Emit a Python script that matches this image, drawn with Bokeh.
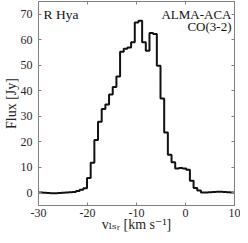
from bokeh.plotting import figure
from bokeh.models import FixedTicker, LinearAxis, Label
from bokeh.embed import file_html
from bokeh.resources import INLINE

# ---- data ----
v_first_center = -30.225   # km/s, first channel centre
channel_width = 0.75       # km/s
flux = [0.1, 0.1, 0.0, -0.1, -0.2, -0.2, -0.1, 0.0, 0.1, 0.2,
        0.3, 0.65, 1.15, 1.8,
        5.8, 11.8, 20.7, 27.8, 32.8, 34.6, 38.5, 41.5, 45.6,
        55.3, 56.5, 57.0, 59.0, 66.8, 67.5, 59.0, 55.7, 62.6, 62.3,
        49.8, 37.0, 23.6, 14.9, 12.0, 9.5, 9.7, 9.5, 9.0, 4.7, 1.9, 0.9,
        0.1, 0.1, 0.2, 0.3, 0.4, 0.4, 0.3, 0.2, 0.1, 0.0]
velocity = [round(v_first_center + channel_width * i, 3) for i in range(len(flux))]

x_ticks = [-30, -20, -10, 0, 10]
y_ticks = [0, 10, 20, 30, 40, 50, 60, 70]
star_name = "R Hya"
instrument = "ALMA-ACA"
line_name = "CO(3-2)"
y_label = "Flux [Jy]"
x_label = "v\u2097\u209b\u1d63 [km s\u207b\u00b9]"

FONT = "Liberation Serif, DejaVu Serif, DejaVu Sans"
GRAY = "#808080"
TXT = "#262626"

p = figure(width=240, height=235, x_range=(-30, 10), y_range=(-5, 75),
           output_backend="svg", toolbar_location=None,
           min_border_left=10, min_border_right=6, min_border_top=1,
           min_border_bottom=30)
p.background_fill_color = "white"
p.border_fill_color = "white"
p.outline_line_color = GRAY
p.outline_line_width = 1
p.xgrid.visible = False
p.ygrid.visible = False

for ax, ticks in ((p.xaxis[0], x_ticks), (p.yaxis[0], y_ticks)):
    ax.ticker = FixedTicker(ticks=ticks)
    ax.major_tick_in = 3
    ax.major_tick_out = 0
    ax.minor_tick_line_color = None
    ax.axis_line_color = GRAY
    ax.major_tick_line_color = GRAY
    ax.major_label_text_font = FONT
    ax.major_label_text_font_size = "12px"
    ax.major_label_text_color = TXT
    ax.axis_label_text_font = FONT
    ax.axis_label_text_font_style = "normal"
    ax.axis_label_text_font_size = "14px"
    ax.axis_label_text_color = TXT
p.xaxis.major_label_standoff = 3
p.yaxis.major_label_standoff = 6
p.xaxis.major_label_overrides = {t: str(t) for t in x_ticks}
p.xaxis.axis_label = x_label
p.yaxis.axis_label = y_label
p.xaxis.axis_label_standoff = -3
p.yaxis.axis_label_standoff = -1

for loc, ticks in (("above", x_ticks), ("right", y_ticks)):
    ax = LinearAxis(ticker=FixedTicker(ticks=ticks), major_tick_in=3, major_tick_out=0,
                    minor_tick_line_color=None, axis_line_color=GRAY,
                    major_tick_line_color=GRAY, major_label_text_font_size="0px",
                    major_label_text_color=None, major_label_standoff=0)
    p.add_layout(ax, loc)

p.step(x=velocity, y=flux, mode="center", line_color="#111111", line_width=2)

# texts in the plot
p.add_layout(Label(x=-30, y=75, x_offset=5, y_offset=-5, text=star_name,
                   text_font=FONT, text_font_size="13.5px", text_color="#111111",
                   text_align="left", text_baseline="top"))
p.add_layout(Label(x=10, y=75, x_offset=-3, y_offset=-5, text=instrument,
                   text_font=FONT, text_font_size="13px", text_color="#111111",
                   text_align="right", text_baseline="top"))
p.add_layout(Label(x=10, y=75, x_offset=-3, y_offset=-17, text=line_name,
                   text_font=FONT, text_font_size="13px", text_color="#111111",
                   text_align="right", text_baseline="top"))

open("out.html", "w").write(file_html(p, INLINE))
